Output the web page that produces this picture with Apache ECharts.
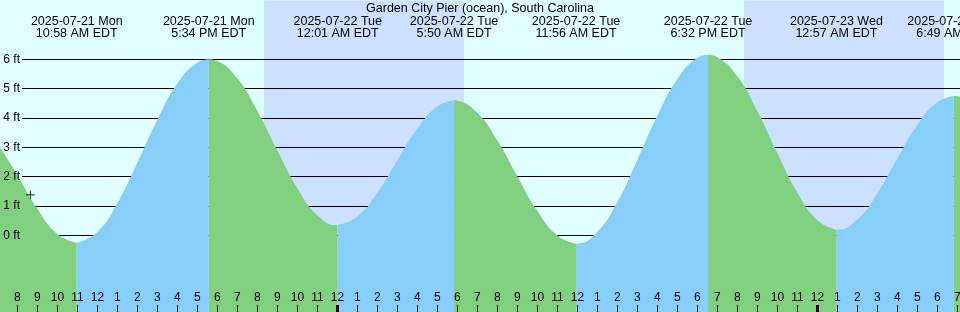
<!DOCTYPE html>
<html lang="en">
<head>
    <meta charset="UTF-8">
    <title>Garden City Pier tides</title>
    <style>
        html, body { margin: 0; padding: 0; background: #e0ffff; }
        #main { width: 960px; height: 312px; }
    </style>
    <script type="text/javascript" src="https://cdn.jsdelivr.net/npm/echarts@6/dist/echarts.min.js"></script>
</head>
<body>
<div id="main"></div>
</body>
<script>
    // hours counted from 2025-07-21 00:00 EDT
    const firstHour = 7;
    const tideFeet = [
        3.15, 2.05, 0.90, 0.05, -0.25, 0.12, 1.10, 2.48, 3.94, 5.17,
        5.89, 5.94, 5.34, 4.24, 2.89, 1.61, 0.69, 0.35, 0.64, 1.46,
        2.56, 3.64, 4.39, 4.59, 4.17, 3.23, 2.01, 0.83, 0.00, -0.28,
        0.13, 1.15, 2.58, 4.08, 5.33, 6.05, 6.07, 5.42, 4.23, 2.80,
        1.46, 0.52, 0.20, 0.55, 1.44, 2.62, 3.76, 4.54, 4.74, 4.34
    ];
    // highs and lows
    const extremeHours = [10.967, 17.567, 24.017, 29.833, 35.933, 42.533, 48.95, 54.817];
    const extremeFeet = [-0.25, 6.0, 0.35, 4.6, -0.28, 6.15, 0.2, 4.75];
    const extremeDates = ['2025-07-21 Mon', '2025-07-21 Mon', '2025-07-22 Tue', '2025-07-22 Tue',
        '2025-07-22 Tue', '2025-07-22 Tue', '2025-07-23 Wed', '2025-07-23 Wed'];
    const extremeTimes = ['10:58 AM EDT', '5:34 PM EDT', '12:01 AM EDT', '5:50 AM EDT',
        '11:56 AM EDT', '6:32 PM EDT', '12:57 AM EDT', '6:49 AM EDT'];
    // sunset -> sunrise
    const nightStart = [20.33, 44.33];
    const nightEnd = [30.33, 54.33];
    const midnightHours = [24, 48];
    const nowPoint = [8.65, 1.38];

    const tMin = 7.13, tMax = 55.13;
    const font = 'Liberation Sans, Arial, sans-serif';

    let hourTicks = [];
    for (let h = 8; h <= 55; h++) hourTicks.push(h);

    // merge hourly readings and extremes, split into rising / falling pieces
    let pts = tideFeet.map((v, i) => [firstHour + i, v])
        .concat(extremeHours.map((t, i) => [t, extremeFeet[i]]))
        .sort((a, b) => a[0] - b[0]);
    let bounds = [-Infinity].concat(extremeHours, [Infinity]);
    let fillSeries = [];
    for (let k = 0; k < bounds.length - 1; k++) {
        let seg = pts.filter(p => p[0] >= bounds[k] && p[0] <= bounds[k + 1]);
        if (seg.length < 2) continue;
        let rising = seg[seg.length - 1][1] > seg[0][1];
        fillSeries.push({
            type: 'line',
            xAxisIndex: 0,
            yAxisIndex: 0,
            data: seg,
            smooth: 0.5,
            symbol: 'none',
            silent: true,
            z: 2,
            lineStyle: { width: 0 },
            areaStyle: { color: rising ? '#87cefa' : '#80d080', opacity: 1, origin: 'start' }
        });
    }

    let chart = echarts.init(document.getElementById('main'));
    let option = {
        backgroundColor: '#e0ffff',
        animation: false,
        title: {
            text: 'Garden City Pier (ocean), South Carolina',
            left: 'center',
            top: 2,
            padding: 0,
            textStyle: { fontFamily: font, fontSize: 12.5, fontWeight: 'normal', color: '#000' }
        },
        grid: [
            { left: 0, right: 0, top: 0.5, bottom: -11.5, outerBoundsMode: 'none', containLabel: false },
            { left: 22, right: 0, top: 59.2, bottom: 76.6, outerBoundsMode: 'none', containLabel: false }
        ],
        xAxis: [
            {
                type: 'value', gridIndex: 0, min: tMin, max: tMax, position: 'bottom', offset: -11.5, z: 5,
                axisLine: { show: false, onZero: false },
                splitLine: { show: false },
                axisTick: { show: true, inside: true, length: 7, customValues: hourTicks, lineStyle: { color: '#000', width: 1 } },
                axisLabel: {
                    show: true, inside: true, margin: 8, customValues: hourTicks,
                    fontFamily: font, fontSize: 12, color: '#000',
                    formatter: v => String(((Math.round(v) % 12) || 12))
                }
            },
            {
                type: 'value', gridIndex: 0, min: tMin, max: tMax, position: 'top', z: 5,
                axisLine: { show: false, onZero: false },
                splitLine: { show: false },
                axisTick: { show: false },
                axisLabel: {
                    show: true, inside: true, margin: 15, customValues: extremeHours,
                    fontFamily: font, fontSize: 12.5, lineHeight: 12, color: '#000', align: 'center',
                    formatter: v => {
                        let i = extremeHours.findIndex(t => Math.abs(t - v) < 0.01);
                        return i < 0 ? '' : extremeDates[i] + '\n' + extremeTimes[i];
                    }
                }
            },
            {
                type: 'value', gridIndex: 0, min: tMin, max: tMax, position: 'bottom', offset: -11.5, z: 5,
                axisLine: { show: false, onZero: false },
                splitLine: { show: false },
                axisLabel: { show: false },
                axisTick: { show: true, inside: true, length: 7, customValues: midnightHours, lineStyle: { color: '#000', width: 3 } }
            },
            {
                type: 'value', gridIndex: 1, min: tMin, max: tMax, show: false,
                axisLine: { onZero: false }
            }
        ],
        yAxis: [
            { type: 'value', gridIndex: 0, min: -3, max: 8, show: false, position: 'left', axisLine: { onZero: false } },
            {
                type: 'value', gridIndex: 1, min: 0, max: 6, interval: 1, z: 1.5, position: 'left',
                axisLine: { show: false, onZero: false }, axisTick: { show: false }, axisLabel: { show: false },
                splitLine: { show: true, lineStyle: { color: '#000', width: 1 } }
            },
            {
                type: 'value', gridIndex: 1, min: 0, max: 6, interval: 1, z: 5, position: 'left',
                axisLine: { show: false, onZero: false }, axisTick: { show: false }, splitLine: { show: false },
                axisLabel: { show: true, margin: 2, formatter: '{value} ft', fontFamily: font, fontSize: 12, color: '#000' }
            }
        ],
        series: [
            {
                type: 'line',
                xAxisIndex: 0,
                yAxisIndex: 0,
                data: [],
                silent: true,
                markArea: {
                    silent: true,
                    itemStyle: { color: '#cce0ff' },
                    data: nightStart.map((s, i) => [{ xAxis: s }, { xAxis: nightEnd[i] }])
                }
            }
        ].concat(fillSeries, [
            {
                type: 'scatter',
                xAxisIndex: 0,
                yAxisIndex: 0,
                data: [nowPoint],
                symbol: 'path://M5,0L5,10M0,5L10,5',
                symbolSize: 9,
                silent: true,
                z: 6,
                itemStyle: { color: 'none', borderColor: '#000', borderWidth: 1 }
            }
        ])
    };
    chart.setOption(option);
</script>
</html>
